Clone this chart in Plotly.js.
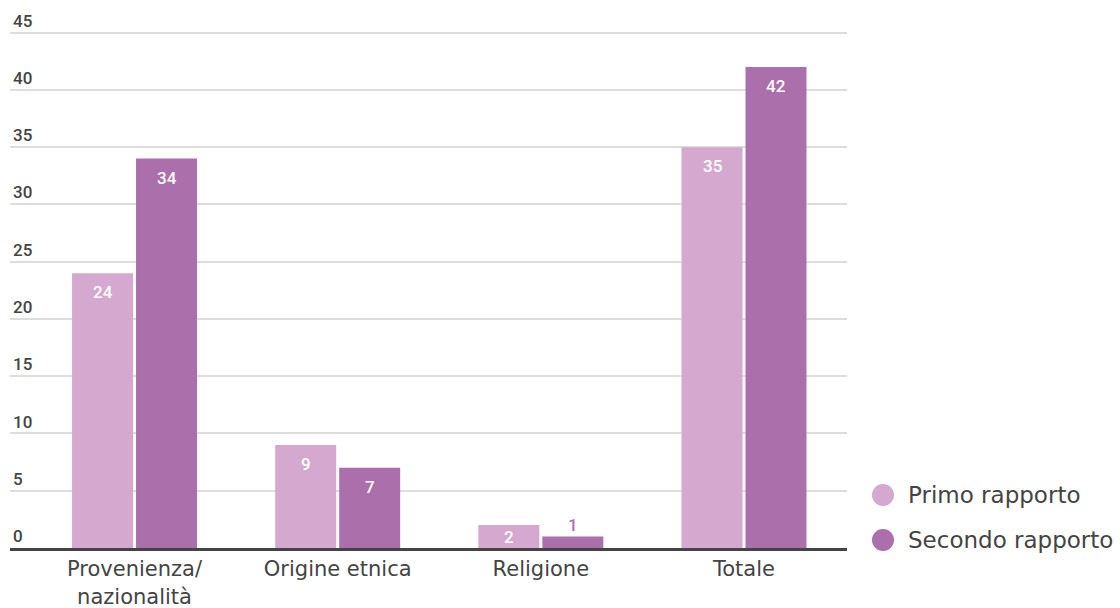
<!DOCTYPE html>
<html>
<head>
<meta charset="utf-8">
<script src="https://cdn.plot.ly/plotly-3.0.1.min.js"></script>
<style>
  html, body { margin: 0; padding: 0; background: #fff; }
  #chart { width: 1120px; height: 608px; }
</style>
</head>
<body>
<div id="chart"></div>
<script>
// Discriminazioni segnalate per motivo, nei due rapporti
const categories = ['Provenienza/<br>nazionalità', 'Origine etnica', 'Religione', 'Totale'];
const seriesNames = ['Primo rapporto', 'Secondo rapporto'];
const primo = [24, 9, 2, 35];
const secondo = [34, 7, 1, 42];
const yTicks = [0, 5, 10, 15, 20, 25, 30, 35, 40, 45];

const colors = ['#d4a8cf', '#ab6fac'];
const labelFont = 'Roboto, sans-serif';
const textFont = '"DejaVu Sans", sans-serif';

// Geometry of the plot, used to place value labels next to the bar tops
const margin = { l: 10, r: 273, t: 4, b: 60 };
const H = 608, W = 1120;
const yMax = 47.5;
const pxPerUnit = (H - margin.t - margin.b) / yMax;
const bargap = 0.37;
const slotOffset = (1 - bargap) / 4; // centre of each bar relative to its category

const data = [primo, secondo].map((vals, i) => ({
  type: 'bar',
  name: seriesNames[i],
  x: categories,
  y: vals,
  marker: { color: colors[i], line: { width: 0 } },
  hoverinfo: 'skip',
  showlegend: false
}));

// Value labels: inside the top of tall bars, centred in short ones,
// above the bar when it is too thin to hold the number
const valueLabels = [];
[primo, secondo].forEach((vals, i) => {
  vals.forEach((v, k) => {
    const h = v * pxPerUnit;
    const x = k + (i === 0 ? -slotOffset : slotOffset);
    const base = {
      xref: 'x', yref: 'y', x: x, text: String(v), showarrow: false,
      font: { family: labelFont, size: 17, color: '#ffffff', weight: 500 }
    };
    if (h >= 40) {
      valueLabels.push(Object.assign(base, { y: v, yanchor: 'top', yshift: -7 }));
    } else if (h >= 18) {
      valueLabels.push(Object.assign(base, { y: v / 2, yanchor: 'middle', yshift: 0 }));
    } else {
      base.font = Object.assign({}, base.font, { color: colors[i] });
      valueLabels.push(Object.assign(base, { y: v, yanchor: 'bottom', yshift: 0 }));
    }
  });
});

// Legend drawn as round swatches with labels beside the plot
const legendY = [(548 - 495) / 544, (548 - 540) / 544];
const legendX = (883 - margin.l) / (W - margin.l - margin.r);
const legendTextX = (906 - margin.l) / (W - margin.l - margin.r);
const shapes = seriesNames.map((n, i) => ({
  type: 'circle',
  xref: 'paper', yref: 'paper',
  xsizemode: 'pixel', ysizemode: 'pixel',
  xanchor: legendX, yanchor: legendY[i],
  x0: -11, x1: 11, y0: -11, y1: 11,
  fillcolor: colors[i],
  line: { width: 0 }
}));
const legendLabels = seriesNames.map((n, i) => ({
  xref: 'paper', yref: 'paper',
  x: legendTextX, y: legendY[i],
  xanchor: 'left', yanchor: 'middle',
  text: n,
  showarrow: false,
  font: { family: textFont, size: 23, color: '#444444' }
}));

const layout = {
  width: W,
  height: H,
  margin: margin,
  paper_bgcolor: '#ffffff',
  plot_bgcolor: '#ffffff',
  barmode: 'group',
  bargap: bargap,
  bargroupgap: 0.047,
  showlegend: false,
  xaxis: {
    type: 'category',
    range: [-0.613, 3.507],
    showgrid: false,
    zeroline: false,
    showline: true,
    linecolor: '#444444',
    linewidth: 3,
    ticks: '',
    tickfont: { family: textFont, size: 21, color: '#444444' },
    fixedrange: true
  },
  yaxis: {
    range: [0, yMax],
    tickvals: yTicks,
    ticktext: yTicks.map(String),
    ticklabelposition: 'inside top',
    tickfont: { family: labelFont, size: 17, color: '#444444', weight: 500 },
    showgrid: true,
    gridcolor: '#dddddd',
    gridwidth: 2,
    zeroline: false,
    showline: false,
    ticks: '',
    fixedrange: true
  },
  shapes: shapes,
  annotations: valueLabels.concat(legendLabels)
};

Plotly.newPlot('chart', data, layout, { displayModeBar: false, staticPlot: true });
</script>
</body>
</html>
